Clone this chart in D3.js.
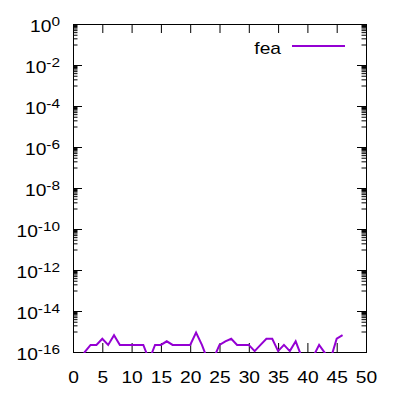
<!DOCTYPE html>
<html>
<head>
<meta charset="utf-8">
<script src="https://cdn.jsdelivr.net/npm/d3@7"></script>
<style>
body { margin: 0; background: #fff; }
svg { display: block; font-family: 'Liberation Sans', Arial, sans-serif; }
</style>
</head>
<body>
<svg id="chart" width="400" height="400"></svg>
<script>
// + -- Data ---------------------------------------------------------------- +
const steps = [1, 2, 3, 4, 5, 6, 7, 8, 9, 10, 11, 12, 13, 14, 15, 16, 17, 18, 19, 20,
  21, 22, 23, 24, 25, 26, 27, 28, 29, 30, 31, 32, 33, 34, 35, 36, 37, 38, 39, 40,
  41, 42, 43, 44, 45, 46]
const fea = [2e-17, 1.0e-16, 2.22e-16, 2.22e-16, 4.44e-16, 2.22e-16, 6.66e-16, 2.22e-16, 2.22e-16, 2.22e-16,
  2.22e-16, 2.22e-16, 4e-17, 2.22e-16, 2.22e-16, 3.33e-16, 2.22e-16, 2.22e-16, 2.22e-16, 2.22e-16,
  8.88e-16, 2.22e-16, 4e-17, 5e-17, 2.22e-16, 3.33e-16, 4.44e-16, 2.22e-16, 2.22e-16, 2.22e-16,
  1.11e-16, 2.22e-16, 4.44e-16, 4.44e-16, 1.11e-16, 2.22e-16, 1.11e-16, 3.33e-16, 6e-17, 3e-17,
  6e-17, 2.22e-16, 8.8e-17, 5e-17, 4.44e-16, 6.66e-16]
const series_name = 'fea'
const x_ticks = [0, 5, 10, 15, 20, 25, 30, 35, 40, 45, 50]
const y_exponents = [0, -2, -4, -6, -8, -10, -12, -14, -16]

// + -- Layout ---------------------------------------------------------------- +
const plot_left = 73, plot_right = 366, plot_top = 24, plot_bottom = 352
const font_size = 16
const stretch = 1.2 // the reference glyphs are a bit wide
const color = '#9400d3'

let svg = d3.select('#chart')

let x = d3.scaleLinear().domain([0, 50]).range([plot_left, plot_right])
let y = d3.scaleLog().domain([1e-16, 1]).range([plot_bottom, plot_top])

// minor ticks at 1..9 x 10^odd
let minor = []
for (let e = -15; e <= -1; e += 2) {
  for (let j = 1; j <= 9; j++) minor.push(j * Math.pow(10, e))
}
let major = y_exponents.map(e => Math.pow(10, e))

function noDomain (g) {
  g.select('.domain').remove()
  g.selectAll('line').attr('stroke', '#000')
}

svg.append('g').attr('transform', 'translate(0,' + plot_bottom + ')')
  .call(d3.axisBottom(x).tickValues(x_ticks).tickSize(-9).tickFormat('')).call(noDomain)
svg.append('g').attr('transform', 'translate(0,' + plot_top + ')')
  .call(d3.axisTop(x).tickValues(x_ticks).tickSize(-9).tickFormat('')).call(noDomain)
svg.append('g').attr('transform', 'translate(' + plot_left + ',0)')
  .call(d3.axisLeft(y).tickValues(major).tickSize(-9).tickFormat('')).call(noDomain)
svg.append('g').attr('transform', 'translate(' + plot_left + ',0)')
  .call(d3.axisLeft(y).tickValues(minor).tickSize(-4.5).tickFormat('')).call(noDomain)
svg.append('g').attr('transform', 'translate(' + plot_right + ',0)')
  .call(d3.axisRight(y).tickValues(major).tickSize(-9).tickFormat('')).call(noDomain)
svg.append('g').attr('transform', 'translate(' + plot_right + ',0)')
  .call(d3.axisRight(y).tickValues(minor).tickSize(-4.5).tickFormat('')).call(noDomain)

// frame
svg.append('rect')
  .attr('x', plot_left + 0.5).attr('y', plot_top + 0.5)
  .attr('width', plot_right - plot_left).attr('height', plot_bottom - plot_top)
  .attr('fill', 'none').attr('stroke', '#000').attr('stroke-width', 1)

// x labels
svg.append('g').selectAll('g')
  .data(x_ticks)
  .join('g')
  .attr('transform', d => 'translate(' + (x(d) + 0.5) + ',' + (plot_bottom + 31) + ') scale(' + stretch + ',1)')
  .append('text')
  .attr('text-anchor', 'middle')
  .style('font-size', font_size + 'px')
  .attr('fill', '#000')
  .text(d => d)

// y labels: 10^e
let ylab = svg.append('g').selectAll('g')
  .data(y_exponents)
  .join('g')
  .attr('transform', d => 'translate(' + (plot_left - 13) + ',' + (y(Math.pow(10, d)) + 8) + ') scale(' + stretch + ',1)')
  .append('text')
  .attr('text-anchor', 'end')
  .style('font-size', font_size + 'px')
  .attr('fill', '#000')
ylab.append('tspan').text('10')
ylab.append('tspan')
  .attr('dy', -0.36 * font_size)
  .style('font-size', (font_size * 0.8) + 'px')
  .text(d => d)

// series line, clipped to plot
svg.append('clipPath').attr('id', 'plot_clip')
  .append('rect')
  .attr('x', plot_left).attr('y', plot_top)
  .attr('width', plot_right - plot_left + 1).attr('height', plot_bottom - plot_top + 1)

let line = d3.line()
  .x((d, i) => x(steps[i]))
  .y(d => y(d))

svg.append('path')
  .datum(fea)
  .attr('clip-path', 'url(#plot_clip)')
  .attr('d', line)
  .attr('fill', 'none')
  .attr('stroke', color)
  .attr('stroke-width', 2)
  .attr('stroke-linejoin', 'miter')

// legend
svg.append('g')
  .attr('transform', 'translate(281,54) scale(' + stretch + ',1)')
  .append('text')
  .attr('text-anchor', 'end')
  .style('font-size', font_size + 'px')
  .attr('fill', '#000')
  .text(series_name)
svg.append('line')
  .attr('x1', 292).attr('x2', 345)
  .attr('y1', 46).attr('y2', 46)
  .attr('stroke', color)
  .attr('stroke-width', 2)
</script>
</body>
</html>
